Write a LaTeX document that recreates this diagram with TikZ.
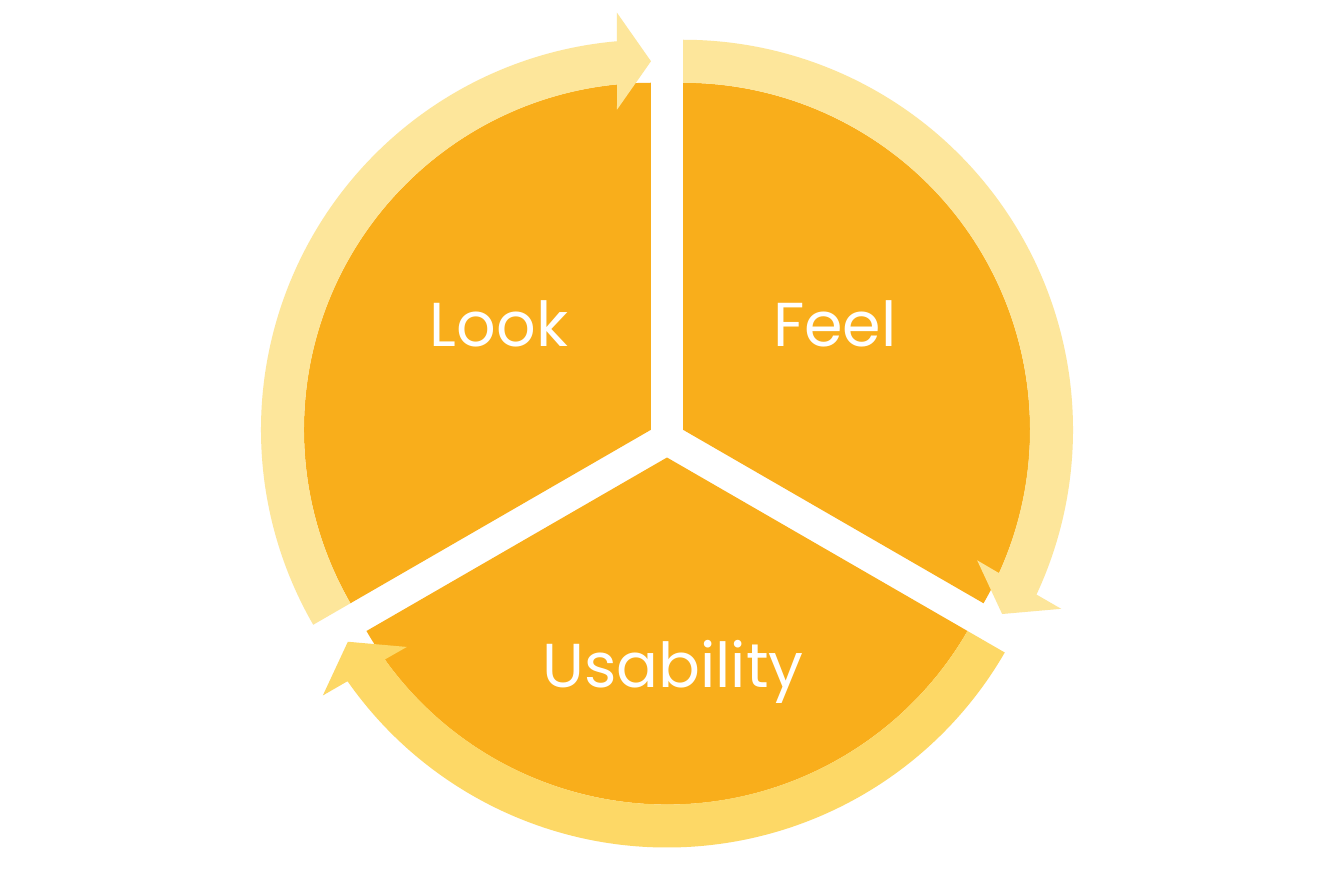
\documentclass[tikz,border=0pt]{standalone}
\usepackage{fontspec}
\setmainfont{Poppins}
\usepackage{xcolor}
\usetikzlibrary{calc}
\definecolor{pieorange}{RGB}{249,174,27}
\definecolor{ringlight}{RGB}{253,230,155}
\definecolor{ringdark}{RGB}{253,216,102}

\begin{document}
\begin{tikzpicture}[x=1pt,y=1pt,
		labeltext/.style={text=white,font=\fontsize{62}{74}\selectfont,anchor=base,inner sep=0pt}]
		
		\useasboundingbox (-667,-450) rectangle (667,439);
		\fill[white] (-667,-450) rectangle (667,439);
		
		% Wedges with their arrows
		\foreach \s/\col in {90/ringlight,-30/ringlight,210/ringdark}{
			\begin{scope}[shift={(\s+60:18.5)}]
				\fill[pieorange] (0,0) -- (\s:347) arc[start angle=\s,end angle=\s+120,radius=347] -- cycle;
				\fill[\col] (\s+120:347) arc[start angle=\s+120,end angle=\s+5.6,radius=347]
				-- ($(\s:320)+(\s+90:34)$) -- (\s:368.5) -- ($(\s:417)+(\s+90:34)$) -- (\s+5.0:390)
				arc[start angle=\s+5.0,end angle=\s+120,radius=390] -- cycle;
			\end{scope}
		}
		
		% Labels
		\node[labeltext] (look) at (-168,92){Look};
		\node[labeltext] (feel) at (168,92){Feel};
		\node[labeltext] (usability) at (6,-248){Usability};
		
	\end{tikzpicture}
\end{document}
